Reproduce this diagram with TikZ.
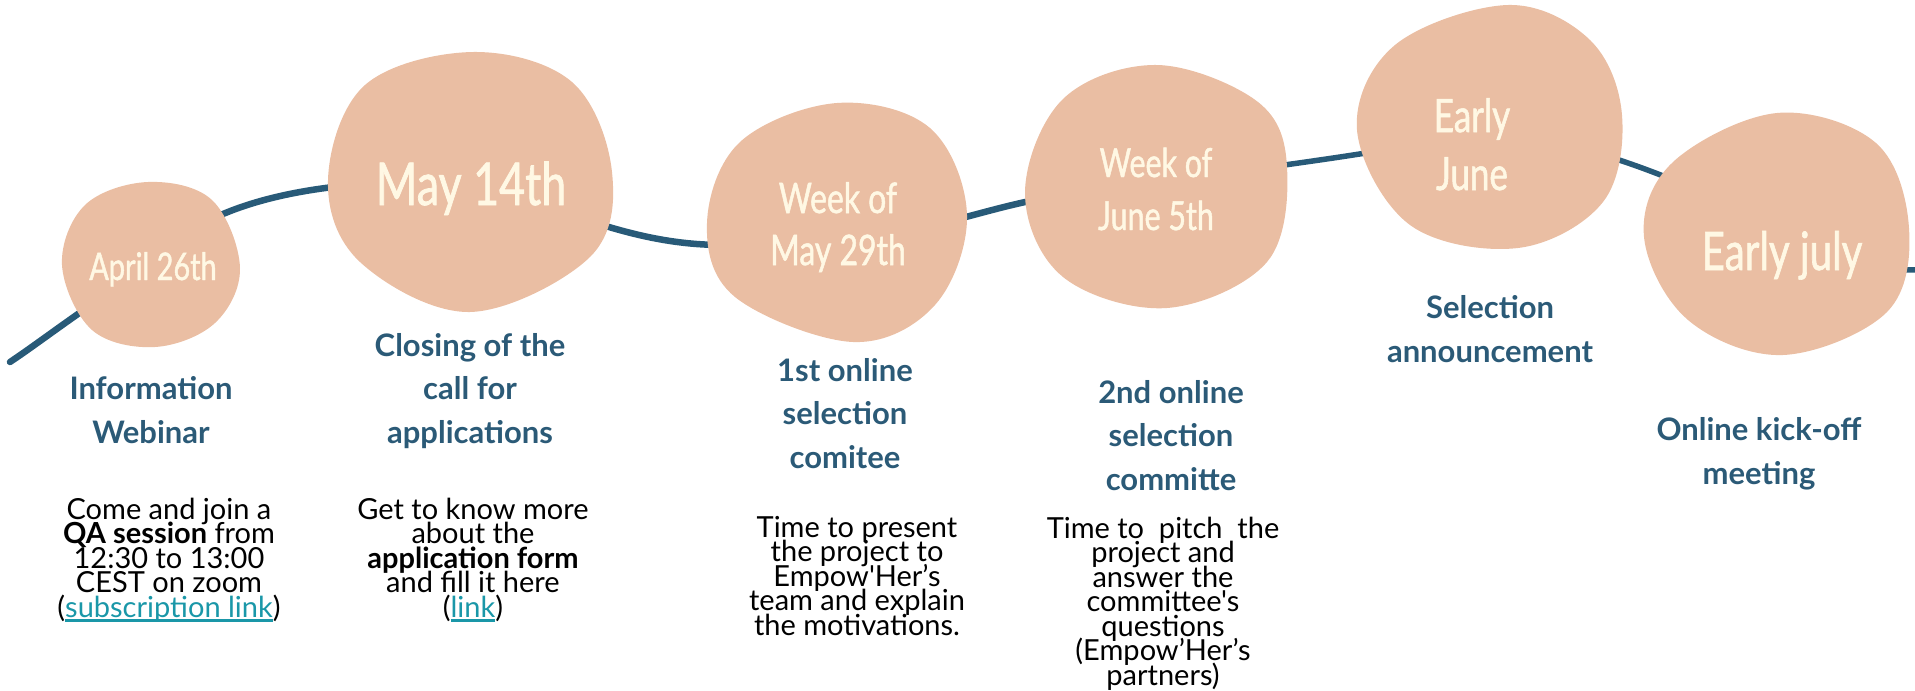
\documentclass[tikz,border=0pt]{standalone}
\usepackage{fontspec}
\setmainfont{Lato}[Ligatures=TeXOff]
\newfontfamily\datefont{Lato}[FakeStretch=0.76,FakeBold=1.2,Ligatures=TeXOff]
\usetikzlibrary{shapes.geometric,backgrounds}
\definecolor{blobc}{HTML}{EABEA3}
\definecolor{datec}{HTML}{FFF8E4}
\definecolor{titlec}{HTML}{2B5A77}
\definecolor{linec}{HTML}{285A78}
\definecolor{linkc}{HTML}{1A97A8}
\newcommand\mylink[1]{\textcolor{linkc}{\setbox0=\hbox{#1}\rlap{\rule[-4.5pt]{\wd0}{2.4pt}}\box0}}
\newcommand\tightlines{\lineskiplimit=-100pt\relax}
\begin{document}
\begin{tikzpicture}[x=1pt,y=-1pt,
  blob/.style={ellipse, inner sep=0pt},
  blobfill/.style={fill=blobc},
  date/.style={text=datec, align=center, anchor=base, inner sep=0pt},
  title/.style={text=titlec, font=\bfseries\fontsize{31}{43.5}\selectfont\tightlines, align=center, anchor=base, inner sep=0pt},
  body/.style={text=black, font=\fontsize{29}{24.5}\selectfont\tightlines, align=center, anchor=base, inner sep=0pt},
  tl/.style={draw=linec, line width=6.5pt, line cap=round}]
\useasboundingbox (0,0) rectangle (1915,691);
% blob nodes (names) and their organic outlines
\node[blob, minimum width=178pt, minimum height=166pt] (b1) at (151,264) {};
\node[blob, minimum width=284pt, minimum height=260pt] (b2) at (470,182) {};
\node[blob, minimum width=260pt, minimum height=240pt] (b3) at (837,222) {};
\node[blob, minimum width=262pt, minimum height=244pt] (b4) at (1156,187) {};
\node[blob, minimum width=266pt, minimum height=244pt] (b5) at (1490,127) {};
\node[blob, minimum width=264pt, minimum height=242pt] (b6) at (1776,234) {};
\fill[blobfill] plot[smooth cycle, tension=0.6] coordinates {(240,268) (215,323) (155,347) (92,330) (62,265) (85,205) (148,182) (212,200)};
\fill[blobfill] plot[smooth cycle, tension=0.6] coordinates {(612,172) (590,257) (470,312) (360,262) (328,180) (365,85) (473,52) (572,82)};
\fill[blobfill] plot[smooth cycle, tension=0.6] coordinates {(967,215) (935,305) (853,342) (735,297) (707,223) (740,142) (837,103) (930,128)};
\fill[blobfill] plot[smooth cycle, tension=0.6] coordinates {(1287,167) (1267,262) (1167,308) (1063,277) (1025,193) (1063,99) (1157,65) (1258,102)};
\fill[blobfill] plot[smooth cycle, tension=0.6] coordinates {(1622,115) (1603,202) (1518,248) (1410,225) (1357,130) (1395,45) (1508,5) (1590,40)};
\fill[blobfill] plot[smooth cycle, tension=0.6] coordinates {(1909,228) (1887,312) (1783,355) (1688,320) (1644,237) (1673,162) (1777,113) (1876,143)};
% dates (base = last line's baseline)
\node[date, font=\datefont\fontsize{38}{50}\selectfont] (d1) at (153,280) {April 26th};
\node[date, font=\datefont\fontsize{59}{60}\selectfont] (d2) at (471,205) {May 14th};
\node[date, font=\datefont\fontsize{42}{52}\selectfont\tightlines] (d3) at (838,265) {Week of\\May 29th};
\node[date, font=\datefont\fontsize{40}{53}\selectfont\tightlines] (d4) at (1156,230) {Week of\\June 5th};
\node[date, font=\datefont\fontsize{46}{58}\selectfont\tightlines] (d5) at (1472,190) {Early\\June};
\node[date, font=\datefont\fontsize{53}{60}\selectfont] (d6) at (1782,270) {Early july};
% titles
\node[title] (t1) at (151,443) {Information\\Webinar};
\node[title] (t2) at (470,443) {Closing of the\\call for\\applications};
\node[title] (t3) at (845,468) {1st online\\selection\\comitee};
\node[title] (t4) at (1171,490) {2nd online\\selection\\committe};
\node[title] (t5) at (1490,362) {Selection\\announcement};
\node[title] (t6) at (1759,484) {Online kick-off\\meeting};
% bodies
\node[body] (x1) at (169,617) {Come and join a\\\textbf{QA session} from\\12:30 to 13:00\\CEST on zoom\\(\mylink{subscription link})};
\node[body] (x2) at (473,617) {Get to know more\\about the\\\textbf{application form}\\and fill it here\\(\mylink{link})};
\node[body] (x3) at (857,635) {Time to present\\the project to\\Empow'Her’s\\team and explain\\the motivations.};
\node[body] (x4) at (1163,685) {Time to\ \ pitch\ \ the\\project and\\answer the\\committee's\\questions\\(Empow’Her’s\\partners)};
% timeline
\coordinate (start) at (10,362);
\coordinate (stop) at (1920,270);
\begin{pgfonlayer}{background}
\draw[tl] (start) .. controls (40,342) and (70,318) .. (b1.center);
\draw[tl] (b1.center) .. controls (200,207) and (300,177) .. (b2.center);
\draw[tl] (b2.center) .. controls (560,200) and (680,285) .. (b3.center);
\draw[tl] (b3.center) .. controls (940,250) and (980,190) .. (b4.center);
\draw[tl, line width=5.5pt] (b4.center) .. controls (1250,165) and (1380,158) .. (b5.center);
\draw[tl, line width=5.5pt] (b5.center) .. controls (1560,140) and (1680,170) .. (b6.center);
\draw[tl, line width=5.5pt] (b6.center) .. controls (1850,270) and (1890,270) .. (stop);
\end{pgfonlayer}
\end{tikzpicture}
\end{document}
